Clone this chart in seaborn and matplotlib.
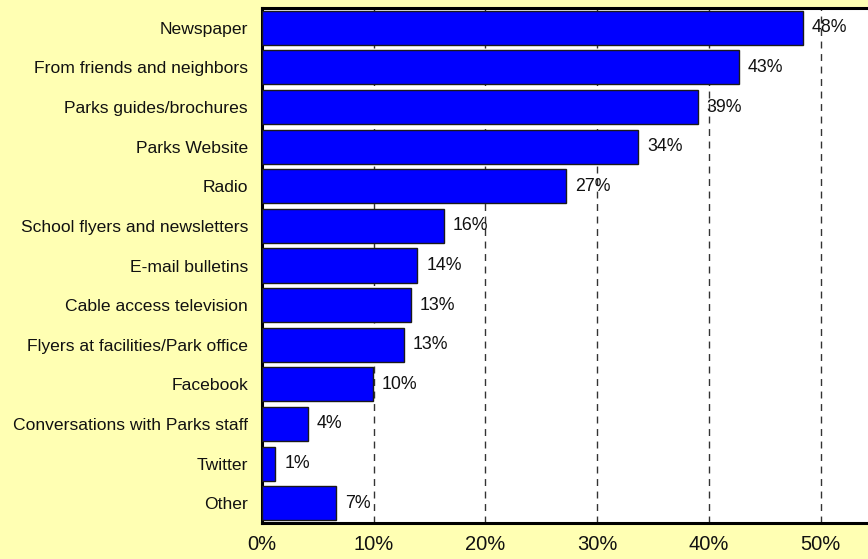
import matplotlib
matplotlib.use("Agg")
import matplotlib.pyplot as plt
import seaborn as sns
import pandas as pd

sources = [
    "Newspaper",
    "From friends and neighbors",
    "Parks guides/brochures",
    "Parks Website",
    "Radio",
    "School flyers and newsletters",
    "E-mail bulletins",
    "Cable access television",
    "Flyers at facilities/Park office",
    "Facebook",
    "Conversations with Parks staff",
    "Twitter",
    "Other",
]
shares = [48.4, 42.7, 39.0, 33.7, 27.2, 16.3, 13.9, 13.3, 12.7, 9.9, 4.1, 1.2, 6.6]
value_labels = ["48%", "43%", "39%", "34%", "27%", "16%", "14%", "13%", "13%",
                "10%", "4%", "1%", "7%"]
x_ticks = [0, 10, 20, 30, 40, 50]
x_tick_labels = ["0%", "10%", "20%", "30%", "40%", "50%"]

df = pd.DataFrame({"source": sources, "share": shares})

sns.set_theme(style="white")
plt.rcParams["font.family"] = ["Liberation Sans", "DejaVu Sans"]

bg = "#FFFFB3"
fig = plt.figure(figsize=(8.68, 5.59), dpi=100, facecolor=bg)
ax = fig.add_axes([262 / 868, 1 - 523 / 559, 1 - 262 / 868, (523 - 8) / 559])
ax.set_facecolor("white")

sns.barplot(data=df, x="share", y="source", orient="h", color="#0000FF",
            saturation=1, width=0.86, edgecolor="#1a1a1a", linewidth=1.0,
            ax=ax, zorder=3)

for i, (v, lab) in enumerate(zip(shares, value_labels)):
    ax.text(v + 0.8, i, lab, va="center", ha="left", fontsize=12.8,
            color="#111111", zorder=4)

ax.set_xlim(0, (868 - 262) / 11.17)
ax.set_ylim(12.5, -0.5)
ax.set_xticks(x_ticks)
ax.set_xticklabels(x_tick_labels, fontsize=14.5, color="#111111")
ax.tick_params(axis="x", length=0, pad=9)
ax.tick_params(axis="y", length=0, pad=10, labelsize=12.6, labelcolor="#111111")
ax.set_xlabel("")
ax.set_ylabel("")

for x in x_ticks[1:]:
    ax.axvline(x, color="#333333", linestyle=(0, (5, 4)), linewidth=1.0, zorder=1)

for side in ["left", "bottom", "top"]:
    ax.spines[side].set_visible(True)
    ax.spines[side].set_color("black")
    ax.spines[side].set_linewidth(2.2)
ax.spines["right"].set_visible(False)

fig.savefig("out.png", dpi=100, facecolor=bg)
